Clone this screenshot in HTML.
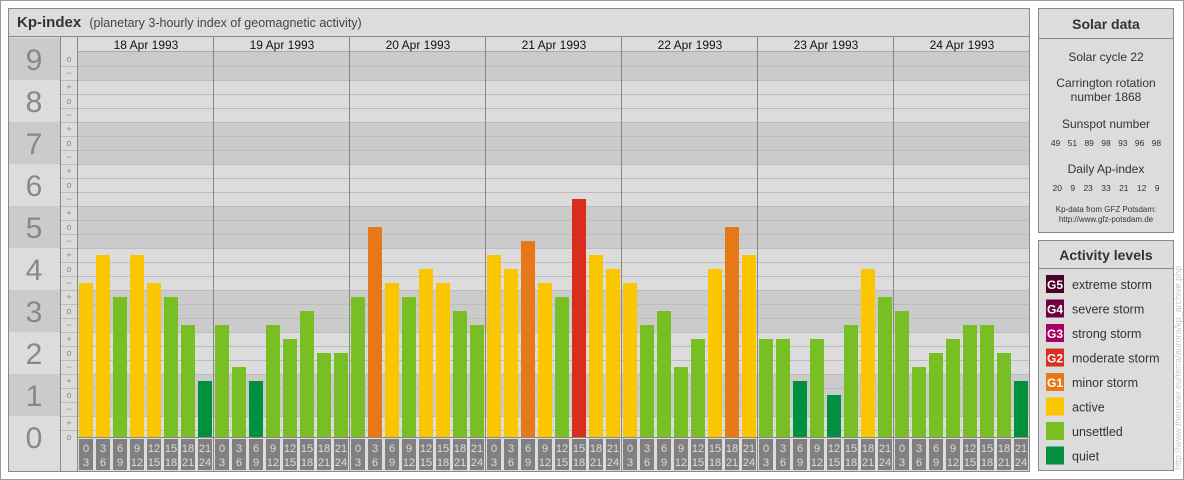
<!DOCTYPE html>
<html><head><meta charset="utf-8"><style>
body{margin:0;width:1184px;height:480px;background:#fff;overflow:hidden;font-family:"Liberation Sans",sans-serif}
svg{display:block}
</style></head><body>
<svg id="c" width="1184" height="480" xmlns="http://www.w3.org/2000/svg" font-family="Liberation Sans, sans-serif">
<rect x="0.5" y="0.5" width="1183" height="479" fill="#fff" stroke="#999"/>
<rect x="8.5" y="8.5" width="1021" height="463" fill="#dcdcdc" stroke="#888"/>
<line x1="9" y1="36.5" x2="1029" y2="36.5" stroke="#888"/>
<text x="17" y="27" font-size="15" font-weight="bold" fill="#333">Kp-index <tspan font-size="12.5" font-weight="normal" fill="#444" dx="4">(planetary 3-hourly index of geomagnetic activity)</tspan></text>
<g id="grid"></g>
<g id="bars"></g>
<g id="hours"></g>
<rect x="1038.5" y="8.5" width="135" height="224" fill="#dcdcdc" stroke="#888"/>
<line x1="1039" y1="38.5" x2="1173" y2="38.5" stroke="#888"/>
<g fill="#333" text-anchor="middle">
<text x="1106" y="29" font-size="14" font-weight="bold">Solar data</text>
<text x="1106" y="61" font-size="12">Solar cycle 22</text>
<text x="1106" y="87" font-size="12">Carrington rotation</text>
<text x="1106" y="101" font-size="12">number 1868</text>
<text x="1106" y="128" font-size="12">Sunspot number</text>
<text x="1106" y="146" font-size="8.5" word-spacing="5">49 51 89 98 93 96 98</text>
<text x="1106" y="173" font-size="12">Daily Ap-index</text>
<text x="1106" y="191" font-size="8.5" word-spacing="6">20 9 23 33 21 12 9</text>
<text x="1106" y="212" font-size="8">Kp-data from GFZ Potsdam:</text>
<text x="1106" y="222" font-size="8">http://www.gfz-potsdam.de</text>
</g>
<rect x="1038.5" y="240.5" width="135" height="230" fill="#dcdcdc" stroke="#888"/>
<line x1="1039" y1="268.5" x2="1173" y2="268.5" stroke="#888"/>
<text x="1106" y="260" font-size="14" font-weight="bold" fill="#333" text-anchor="middle">Activity levels</text>
<g id="legend"></g>
<text transform="translate(1181,470) rotate(-90)" font-size="9" fill="#c8c8c8">http://www.theusner.eu/terra/aurora/kp_archive.php</text>
</svg>
<script>
const days=["18 Apr 1993","19 Apr 1993","20 Apr 1993","21 Apr 1993","22 Apr 1993","23 Apr 1993","24 Apr 1993"];
// Kp values in thirds (3 = 1o, 4 = 1+, 5 = 2-, ...)
const kp18=[11,13,10,13,11,10,8,4];
const kp19=[8,5,4,8,7,9,6,6];
const kp20=[10,15,11,10,12,11,9,8];
const kp21=[13,12,14,11,10,17,13,12];
const kp22=[11,8,9,5,7,12,15,13];
const kp23=[7,7,4,7,3,8,12,10];
const kp24=[9,5,6,7,8,8,6,4];
const series=[kp18,kp19,kp20,kp21,kp22,kp23,kp24];
const hourTop=["0","3","6","9","12","15","18","21"];
const hourBot=["3","6","9","12","15","18","21","24"];
const yLabels=["0","1","2","3","4","5","6","7","8","9"];
const legendCodes=["G5","G4","G3","G2","G1","","",""];
const legendNames=["extreme storm","severe storm","strong storm","moderate storm","minor storm","active","unsettled","quiet"];
const legendColors=["#4d0026","#6e0043","#a8005e","#d92d1d","#e67817","#f9c600","#77bf22","#00903f"];

const NS="http://www.w3.org/2000/svg";
const X0=78,DW=136,SW=17,Y0=437,U=14;
const y=n=>Y0-U*n;
const xs=(d,i)=>X0+DW*d+SW*i;
function mk(tag,at,parent){const e=document.createElementNS(NS,tag);for(const k in at)e.setAttribute(k,at[k]);parent.appendChild(e);return e;}
function color(n){if(n<=4)return legendColors[7];if(n<=10)return legendColors[6];if(n<=13)return legendColors[5];if(n<=16)return legendColors[4];if(n<=19)return legendColors[3];if(n<=22)return legendColors[2];if(n<=25)return legendColors[1];return legendColors[0];}
const g=document.getElementById('grid');
// bands
yLabels.forEach((l,k)=>{
  const top=Math.max(y(3*k+1.5),37), bot=Math.min(y(3*k-1.5),471);
  const dark=k%2===1;
  const b=mk('rect',{x:9,y:top,width:51,height:bot-top,fill:dark?'#cbcbcb':'#dcdcdc'},g);
  
  
  const ptop=Math.max(top,51);
  mk('rect',{x:78,y:ptop,width:951,height:Math.min(bot,437)-ptop,fill:dark?'#cbcbcb':'#dcdcdc'},g);
  const t=mk('text',{x:34,y:y(3*k)+11,'font-size':30,fill:'#888','text-anchor':'middle'},g);
  t.textContent=l;
  
  
});
// minor marks and grid lines
const marks=["o","+","\u2212"];
for(let n=0;n<=27;n++){
  const t=mk('text',{x:69,y:y(n)+3,'font-size':9,fill:'#888','text-anchor':'middle'},g);
  t.textContent=marks[n%3];
  
  
  if(n<27)mk('line',{x1:61,x2:1029,y1:y(n+0.5)+0.5,y2:y(n+0.5)+0.5,stroke:'#bcbcbc'},g);
}
mk('line',{x1:60.5,x2:60.5,y1:37,y2:471,stroke:'#888'},g);
mk('line',{x1:77.5,x2:77.5,y1:37,y2:471,stroke:'#888'},g);
mk('line',{x1:78,x2:1029,y1:51.5,y2:51.5,stroke:'#aaa'},g);
mk('rect',{x:78,y:37,width:951,height:14,fill:'#dcdcdc'},g);
days.forEach((d,i)=>{
  if(i>0)mk('line',{x1:X0+DW*i-0.5,x2:X0+DW*i-0.5,y1:37,y2:471,stroke:'#888'},g);
  const t=mk('text',{x:X0+DW*i+68,y:49,'font-size':12,fill:'#111','text-anchor':'middle'},g);
  t.textContent=d;
  
  
});
mk('line',{x1:78,x2:1029,y1:437.5,y2:437.5,stroke:'#888'},g);
// bars
const bg=document.getElementById('bars'), hg=document.getElementById('hours');
series.forEach((s,d)=>{s.forEach((n,i)=>{
  const r=mk('rect',{x:xs(d,i)+1,y:y(n),width:14,height:y(0)-y(n),fill:color(n)},bg);
  
  
  const h=mk('rect',{x:xs(d,i)+1,y:439,width:14,height:31,fill:'#808080'},hg);
  
  
  const t1=mk('text',{x:xs(d,i)+8,y:452,'font-size':11,fill:'#ddd','text-anchor':'middle'},hg);
  t1.textContent=hourTop[i];
  
  
  const t2=mk('text',{x:xs(d,i)+8,y:466,'font-size':11,fill:'#ddd','text-anchor':'middle'},hg);
  t2.textContent=hourBot[i];
  
  
});});
// legend
const lg=document.getElementById('legend');
legendNames.forEach((nm,i)=>{
  const yy=275+24.5*i;
  const r=mk('rect',{x:1046,y:yy,width:18,height:18,fill:legendColors[i]},lg);
  
  
  if(legendCodes[i]){const c=mk('text',{x:1055,y:yy+14,'font-size':12,'font-weight':'bold',fill:'#fff','text-anchor':'middle'},lg);c.textContent=legendCodes[i];
  
  }
  const t=mk('text',{x:1072,y:yy+14,'font-size':12.5,fill:'#333'},lg);
  t.textContent=nm;
  
  
});
</script>
</body></html>
